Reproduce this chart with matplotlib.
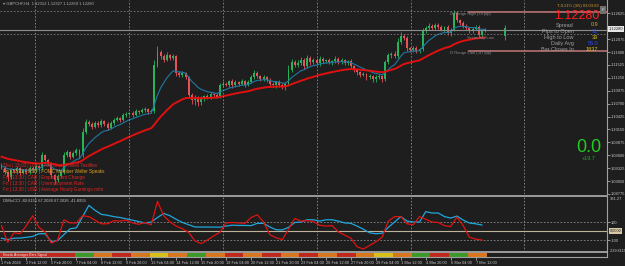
#GBPCHF H4 chart with DMI x CCI sub-window
import matplotlib.pyplot as plt
import matplotlib.transforms as mtransforms
import numpy as np

plt.rcParams['font.family'] = ['Liberation Sans', 'DejaVu Sans']

# H4 closes, 1 Feb 2024 00:00 .. 7 Mar 2024 20:00
close = [1.0933, 1.0924, 1.0914, 1.0928, 1.0926, 1.0933, 1.0922, 1.0928, 1.0924, 1.0933,
         1.0928, 1.0937, 1.0933, 1.0960, 1.0950, 1.0943, 1.0918, 1.0907, 1.0916, 1.0924,
         1.0960, 1.0967, 1.0956, 1.0965, 1.0971, 1.0960, 1.1010, 1.1031, 1.1027, 1.1020,
         1.1029, 1.1024, 1.1033, 1.1027, 1.1018, 1.1029, 1.1035, 1.1039, 1.1035, 1.1046,
         1.1048, 1.1050, 1.1046, 1.1054, 1.1052, 1.1056, 1.1058, 1.1052, 1.1054, 1.1152,
         1.1180, 1.1171, 1.1163, 1.1173, 1.1167, 1.1171, 1.1135, 1.1131, 1.1135, 1.1126,
         1.1088, 1.1078, 1.1084, 1.1073, 1.1082, 1.1086, 1.1084, 1.1090, 1.1088, 1.1084,
         1.1109, 1.1112, 1.1110, 1.1118, 1.1109, 1.1116, 1.1112, 1.1118, 1.1110, 1.1116,
         1.1126, 1.1135, 1.1129, 1.1122, 1.1126, 1.1120, 1.1112, 1.1109, 1.1116, 1.1110,
         1.1105, 1.1112, 1.1141, 1.1158, 1.1152, 1.1156, 1.1163, 1.1150, 1.1167, 1.1158,
         1.1163, 1.1156, 1.1165, 1.1160, 1.1163, 1.1158, 1.1160, 1.1165, 1.1158, 1.1163,
         1.1156, 1.1160, 1.1150, 1.1141, 1.1137, 1.1131, 1.1133, 1.1126, 1.1129, 1.1122,
         1.1126, 1.1129, 1.1122, 1.1158, 1.1173, 1.1176, 1.1171, 1.1201, 1.1214, 1.1210,
         1.1188, 1.1184, 1.1188, 1.1182, 1.1186, 1.1225, 1.1231, 1.1235, 1.1231, 1.1237,
         1.1233, 1.1227, 1.1233, 1.1220, 1.1227, 1.1263, 1.1248, 1.1242, 1.1235, 1.1231,
         1.1225, 1.1229, 1.1233, 1.1216, 1.1225, 1.1228]
open0 = 1.0939
# wicks in pips
wick_up = [4, 3, 2, 5, 3, 4, 2, 3, 4, 3, 3, 4, 2, 6, 3, 2, 3, 2, 4, 5,
           6, 5, 3, 4, 5, 3, 8, 6, 4, 3, 4, 3, 5, 3, 4, 3, 4, 5, 3, 4,
           5, 3, 4, 4, 3, 5, 4, 3, 4, 10, 12, 5, 4, 6, 3, 4, 3, 5, 4, 3,
           3, 4, 5, 3, 4, 3, 5, 4, 3, 4, 5, 6, 4, 3, 5, 4, 3, 4, 3, 5,
           6, 7, 4, 3, 4, 3, 5, 4, 3, 4, 3, 4, 12, 8, 5, 6, 7, 4, 6, 5,
           4, 5, 6, 4, 3, 5, 4, 6, 4, 5, 3, 4, 5, 3, 4, 3, 4, 3, 4, 3,
           4, 5, 3, 6, 5, 4, 6, 8, 9, 5, 4, 3, 5, 4, 3, 6, 5, 7, 4, 5,
           4, 5, 3, 4, 5, 6, 4, 3, 5, 4, 3, 4, 5, 4, 3, 3]
wick_dn = [3, 5, 8, 4, 3, 5, 4, 3, 5, 4, 4, 3, 5, 4, 3, 4, 6, 8, 4, 3,
           3, 4, 5, 3, 4, 5, 3, 4, 5, 4, 3, 4, 3, 5, 4, 3, 4, 3, 4, 3,
           4, 3, 5, 3, 4, 3, 4, 5, 3, 3, 4, 5, 4, 3, 5, 4, 6, 4, 5, 4,
           6, 8, 10, 9, 5, 6, 4, 5, 4, 3, 3, 4, 3, 4, 5, 3, 4, 3, 4, 3,
           3, 4, 5, 4, 3, 4, 5, 4, 5, 4, 4, 5, 3, 4, 5, 4, 3, 6, 4, 5,
           4, 3, 5, 4, 3, 4, 5, 3, 4, 3, 4, 3, 5, 4, 5, 4, 3, 5, 4, 6,
           5, 4, 6, 3, 4, 5, 3, 4, 3, 5, 5, 4, 3, 5, 4, 3, 4, 3, 4, 5,
           4, 3, 5, 4, 6, 3, 4, 5, 3, 4, 4, 5, 3, 6, 4, 3]
day_ohlc = [1.1214, 1.1237, 1.1205, 1.1231]
day_pos = 161.4

fast_span, fast_start = 10, 1.0938
slow_span, slow_start = 34, 1.0958

# CCI values, every second bar
cci_red = [60, -125, -20, -30, 60, 170, 40, -10, -135, -100,
           125, 90, 90, 170, 160, 120, 80, 80, 115, 110,
           120, 90, 75, 95, 70, 330, 170, 100, 55, 25,
           -15, -110, -140, -100, -55, -15, 90, 95, 90, 85,
           150, 180, 100, -40, -75, -95, 20, 140, 110, 115,
           105, 65, 55, 60, -10, -45, -80, -175, -200, -160,
           -120, -70, 110, 160, 160, 80, 70, 160, 130, 100,
           95, 60, 50, 155, 60, -70, -90, -100]
cci_blue = [-80, -95, -80, -78, -70, -60, -30, -30, -120, -105,
            -40, 25, 35, 160, 285, 230, 185, 175, 160, 150,
            135, 120, 105, 90, 100, 150, 195, 170, 130, 95,
            70, 45, 44, 44, 44, 42, 55, 65, 62, 62,
            60, 85, 85, 45, 15, 12, 40, 95, 100, 125,
            125, 110, 125, 125, 110, 90, 85, 55, 20, -20,
            -30, -25, 40, 100, 160, 110, 100, 100, 215, 200,
            200, 160, 144, 166, 122, 89, 80, 67]

price_ticks = [1.08775, 1.09050, 1.09325, 1.09600, 1.09875, 1.10150, 1.10425,
               1.10700, 1.10975, 1.11250, 1.11525, 1.11800, 1.12075, 1.12625]
bid = 1.12280
range_high, range_low = 1.1265, 1.1182
yday_high, yday_low = 1.1267, 1.1218

dates = ["1 Feb 2024", "2 Feb 12:00", "5 Feb 20:00", "7 Feb 04:00", "8 Feb 12:00",
         "9 Feb 20:00", "13 Feb 04:00", "14 Feb 12:00", "15 Feb 20:00", "19 Feb 04:00",
         "20 Feb 12:00", "21 Feb 20:00", "23 Feb 04:00", "26 Feb 12:00", "27 Feb 20:00",
         "29 Feb 04:00", "1 Mar 12:00", "4 Mar 20:00", "6 Mar 04:00", "7 Mar 12:00"]
strip = "rrrrgoroyogororororoyogrgo"

news = ["Thu | 15:00 | USD | Fed Chair Powell Testifies",
        "Fri | 13:32 | USD | FOMC Member Waller Speaks",
        "Fri | 13:30 | CAD | Employment Change",
        "Fri | 13:30 | CAD | Unemployment Rate",
        "Fri | 13:30 | USD | Average Hourly Earnings m/m"]
news_col = ["#e02424", "#e0a024", "#e02424", "#e02424", "#e02424"]

bg = "#1e1e1e"
W, H = 625, 266
fig = plt.figure(figsize=(6.25, 2.66), dpi=100, facecolor=bg)

def box(x0, y0, x1, y1):
    return [x0 / W, 1 - y1 / H, (x1 - x0) / W, (y1 - y0) / H]

def tx(x, y, s, **kw):
    kw.setdefault("va", "center")
    fig.text(x / W, 1 - y / H, s, **kw)

ax = fig.add_axes(box(0, 0, 607, 194))
axc = fig.add_axes(box(0, 196, 607, 252), sharex=ax)
axs = fig.add_axes(box(0, 253, 607, 257), sharex=ax)
for a in (ax, axc, axs):
    a.set_facecolor(bg)
    for s in a.spines.values():
        s.set_visible(False)
    a.spines["right"].set_visible(True)
    a.spines["right"].set_color("#a0a0a0")
    a.tick_params(axis="x", bottom=False, labelbottom=False)

# candles
n = len(close)
idx = np.arange(n)
c = np.array(close)
o = np.array([open0] + close[:-1])
hi = np.maximum(o, c) + np.array(wick_up) / 1e4
lo = np.minimum(o, c) - np.array(wick_dn) / 1e4
col = np.where(c >= o, "#26b35a", "#e5525a")
ax.vlines(idx, lo, hi, colors=col, lw=0.6)
ax.bar(idx, np.abs(c - o) + 0.00003, bottom=np.minimum(o, c), width=0.62, color=col, lw=0)
ax.vlines(day_pos, day_ohlc[2], day_ohlc[1], colors="#26b35a", lw=0.6)
ax.bar(day_pos, day_ohlc[3] - day_ohlc[0], bottom=day_ohlc[0], width=0.5, color="#26b35a", lw=0)

def ema(vals, span, start):
    a = 2 / (span + 1)
    v = start
    out = []
    for p in vals:
        v += a * (p - v)
        out.append(v)
    return out

ax.plot(idx, ema(close, fast_span, fast_start), color="#1f78a4", lw=0.8)
ax.plot(idx, ema(close, slow_span, slow_start), color="#e01010", lw=1.4)

ax.set_xlim(-0.48, 194.1)
ax.set_ylim(1.08773, 1.12909)
ax.yaxis.tick_right()
ax.set_yticks(price_ticks)
ax.set_yticklabels([f"{t:.5f}" for t in price_ticks])
ax.tick_params(axis="y", colors="#c8c8c8", labelsize=2.9, length=2, width=0.5, pad=0.8)

vgrid = [10.7, 40.9, 71.0, 101.1, 131.3, 167.5]
for a in (ax, axc):
    for g in vgrid:
        a.axvline(g, color="#8a8a8a", lw=0.6, ls=(0, (2, 2)))

ax.axhline(bid, color="#8c8c8c", lw=0.8)
ax.axhline(yday_high, color="#7a7a7a", lw=0.6, ls=(0, (2, 2)))
ax.axhline(yday_low, color="#7a7a7a", lw=0.6, ls=(0, (2, 2)))
ax.hlines([range_high, range_low], 149.5, 194.1, colors="#b57070", lw=1.2)

# CCI window
cci_x = np.arange(0, 2 * len(cci_red), 2)
axc.set_ylim(-233, 389)
axc.axhline(0, color="#bfb39b", lw=0.8)
axc.axhline(100, color="#8a8a8a", lw=0.6, ls=(0, (2, 2)))
axc.axhline(-100, color="#8a8a8a", lw=0.6, ls=(0, (2, 2)))
axc.plot(cci_x, cci_blue, color="#1ea7de", lw=0.9)
axc.plot(cci_x, cci_red, color="#e01212", lw=0.9)
for sp in ("top", "bottom"):
    axc.spines[sp].set_visible(True)
    axc.spines[sp].set_color("#b0b0b0")
    axc.spines[sp].set_linewidth(1.2)
axc.yaxis.tick_right()
axc.set_yticks([100, -100])
axc.set_yticklabels(["100", "-100"])
axc.tick_params(axis="y", colors="#c8c8c8", labelsize=2.9, length=2, width=0.5, pad=0.8)
tr = mtransforms.blended_transform_factory(axc.transAxes, axc.transData)
axc.text(1.004, 381.27, "381.27", transform=tr, fontsize=2.9, color="#c8c8c8", va="top", clip_on=False)
axc.text(1.004, -239.81, "-239.8115", transform=tr, fontsize=2.7, color="#c8c8c8", va="bottom", clip_on=False)
axc.text(1.004, 0, "0.0000", transform=tr, fontsize=2.9, color="#202020", va="center", clip_on=False,
         bbox=dict(boxstyle="square,pad=0.15", fc="#d8c8a4", ec="none"))

# signal strip + dates
strip_cols = {"r": "#c0271f", "o": "#d9771e", "y": "#d8c21a", "g": "#3a9a2a"}
for k, ch in enumerate(strip):
    axs.bar(6 * k + 2.5, 1, width=6, color=strip_cols[ch], lw=0)
axs.set_ylim(0, 1)
axs.set_yticks([])
axs.spines["bottom"].set_visible(True)
axs.spines["bottom"].set_color("#a0a0a0")
axs.set_xticks(np.arange(0, 8 * len(dates), 8))
axs.set_xticklabels(dates)
axs.tick_params(axis="x", bottom=True, labelbottom=True, colors="#c8c8c8",
                labelsize=2.8, length=2, width=0.5, pad=1)
for lab in axs.get_xticklabels():
    lab.set_ha("left")
ax.set_xlim(-0.48, 194.1)

# texts
tx(3, 4, "\u25be GBPCHF,H4  1.12312 1.12327 1.12269 1.12280", fontsize=3, color="#b0b0b0")
tx(3, 201, "DMIxCCI -82.6151 67.2026 67.2026 -41.8955", fontsize=3, color="#c0c0c0")
tx(3, 255, "Kinetic Averages Bars Signal", fontsize=2.4, color="#f0f0f0")
for k, (s, cl) in enumerate(zip(news, news_col)):
    tx(3, 165 + 6 * k, s, fontsize=3.3, color=cl)

tx(557, 6, "T-0:21% (3/5) 03:03:03", fontsize=3, color="#d89a2a")
tx(603, 10, "F", fontsize=3, color="#e0e0e0", ha="center",
   bbox=dict(boxstyle="square,pad=0.4", fc="#707070", ec="none"))
tx(599, 16, "1.12280", fontsize=9, color="#ff2020", ha="right")
labels = ["Spread", "Pips to Open", "High to Low", "Daily Avg", "Bar Closes In"]
values = ["0.9", "31", "39", "56.0", "1837"]
val_col = ["#d9a520", "#2848ff", "#d9c020", "#2848ff", "#e0c020"]
for k in range(len(labels)):
    tx(574, 25 + 6.1 * k, labels[k], fontsize=4, color="#a0a0a0", ha="right")
    tx(598, 25 + 6.1 * k, values[k], fontsize=4, color=val_col[k], ha="right")
tx(450, 14, "D Range High (39 pip)", fontsize=3, color="#8a8a8a")
tx(450, 53, "D Range Low (-47 pip)", fontsize=3, color="#8a8a8a")
tx(467, 38, "Yesterday Low", fontsize=3, color="#8a8a8a")
tx(609, 29, "1.12280", fontsize=2.9, color="#202020",
   bbox=dict(boxstyle="square,pad=0.15", fc="#e6e6e6", ec="none"))
tx(589, 147, "0.0", fontsize=13, color="#22cc22", ha="center")
tx(589, 158, "+19.7", fontsize=4, color="#22aa22", ha="center")

fig.savefig("out.png", dpi=100, facecolor=bg)
